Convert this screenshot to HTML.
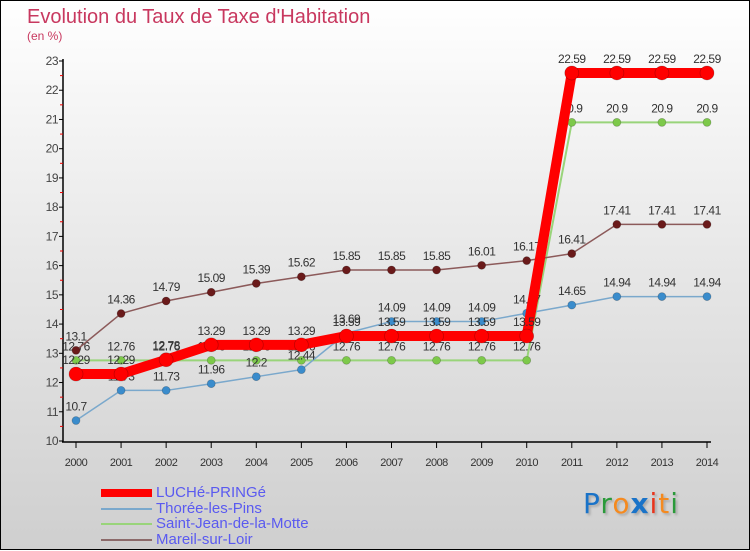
<!DOCTYPE html>
<html><head><meta charset="utf-8"><style>
html,body{margin:0;padding:0;}
body{width:750px;height:550px;overflow:hidden;font-family:"Liberation Sans",sans-serif;}
#wrap{position:relative;width:748px;height:548px;border:1px solid #000;background:linear-gradient(#ffffff 0%,#e6e6e6 50%,#cfcfcf 100%);}
.t{position:absolute;}
</style></head><body>
<div id="wrap">
<div class="t" style="left:26px;top:5px;font-size:20px;color:#c8385f;">Evolution du Taux de Taxe d'Habitation</div>
<div class="t" style="left:26px;top:28px;font-size:12px;color:#c8385f;">(en %)</div>
<svg id="chart" width="750" height="550" style="position:absolute;left:0;top:0"></svg>
<div class="t" style="left:100px;top:484px;font-size:15px;color:#5a5af0;line-height:15.5px;">
 <div><span style="display:inline-block;width:51px;height:8px;background:#f00;margin-right:4px;vertical-align:middle"></span>LUCHé-PRINGé</div>
 <div><span style="display:inline-block;width:51px;height:2px;background:#7aa8cc;margin-right:4px;vertical-align:middle"></span>Thorée-les-Pins</div>
 <div><span style="display:inline-block;width:51px;height:2px;background:#99d47a;margin-right:4px;vertical-align:middle"></span>Saint-Jean-de-la-Motte</div>
 <div><span style="display:inline-block;width:51px;height:2px;background:#8c6a6a;margin-right:4px;vertical-align:middle"></span>Mareil-sur-Loir</div>
</div>
<div class="t" style="left:582px;top:486px;font-size:28px;font-family:'DejaVu Sans',sans-serif;letter-spacing:1px;text-shadow:2px 2px 2px #aaa;"><span style="color:#1a73c8">P</span><span style="color:#2a9a3a">r</span><span style="color:#f58a1f">o</span><span style="color:#1a73c8;font-weight:bold">x</span><span style="color:#e8341c">i</span><span style="color:#f58a1f">t</span><span style="color:#2a9a3a">i</span></div>
</div>
<script>
const years=["2000","2001","2002","2003","2004","2005","2006","2007","2008","2009","2010","2011","2012","2013","2014"];
const yTicks=[10,11,12,13,14,15,16,17,18,19,20,21,22,23];
const luche=[12.29,12.29,12.78,13.29,13.29,13.29,13.59,13.59,13.59,13.59,13.59,22.59,22.59,22.59,22.59];
const thoree=[10.7,11.73,11.73,11.96,12.2,12.44,13.69,14.09,14.09,14.09,14.37,14.65,14.94,14.94,14.94];
const saintJean=[12.76,12.76,12.76,12.76,12.76,12.76,12.76,12.76,12.76,12.76,12.76,20.9,20.9,20.9,20.9];
const mareil=[13.1,14.36,14.79,15.09,15.39,15.62,15.85,15.85,15.85,16.01,16.17,16.41,17.41,17.41,17.41];

const svg=document.getElementById('chart');
const NS='http://www.w3.org/2000/svg';
const x=i=>75+i*(706-75)/(years.length-1);
const y=v=>440-(v-10)*(380/13);
function mk(tag,attrs,parent){const e=document.createElementNS(NS,tag);for(const k in attrs)e.setAttribute(k,attrs[k]);(parent||svg).appendChild(e);return e;}
function txt(s,xx,yy,anchor,size,color){const e=mk('text',{x:xx,y:yy,'text-anchor':anchor,'font-size':size,fill:color,'font-family':'Liberation Sans, sans-serif','letter-spacing':'-0.5'});e.textContent=s;return e;}
// axes
let a=mk('line',{x1:62,y1:58,x2:62,y2:441,stroke:'#000','stroke-width':1.5});


a=mk('line',{x1:61,y1:441,x2:710,y2:441,stroke:'#000','stroke-width':1.5});


yTicks.forEach(v=>{
  mk('line',{x1:58,y1:y(v),x2:62,y2:y(v),stroke:'#000'});
  if(v<23) mk('line',{x1:59,y1:y(v+0.5),x2:62,y2:y(v+0.5),stroke:'#e00'});
  const t=txt(String(v),57,y(v)+4,'end',12,'#444');
  
  
});
years.forEach((s,i)=>{
  mk('line',{x1:x(i),y1:441,x2:x(i),y2:447,stroke:'#000'});
  const t=txt(s,x(i),465,'middle',11,'#333');
  
  
});
function series(name,data,color,w,r,dot){
  const g=mk('g',{});
  
  
  mk('polyline',{points:data.map((v,i)=>x(i)+','+y(v)).join(' '),fill:'none',stroke:color,'stroke-width':w,'stroke-linejoin':'round'},g);
  data.forEach((v,i)=>{
    const c=mk('circle',{cx:x(i),cy:y(v),r:r,fill:dot,stroke:'rgba(0,0,0,0.25)','stroke-width':0.7},g);
    
    
    const t=txt(String(v),x(i),y(v)-10,'middle',12,'#333');
    
    
  });
}
series('saint-jean',saintJean,'#99d47a',2,4,'#7dc94a');
series('thoree',thoree,'#7aa8cc',1.5,4,'#3a8ccc');
series('mareil',mareil,'#8c5a5a',1.5,4,'#6a1a1a');
series('luche',luche,'#f00',10,7,'#f00');
</script>
</body></html>
